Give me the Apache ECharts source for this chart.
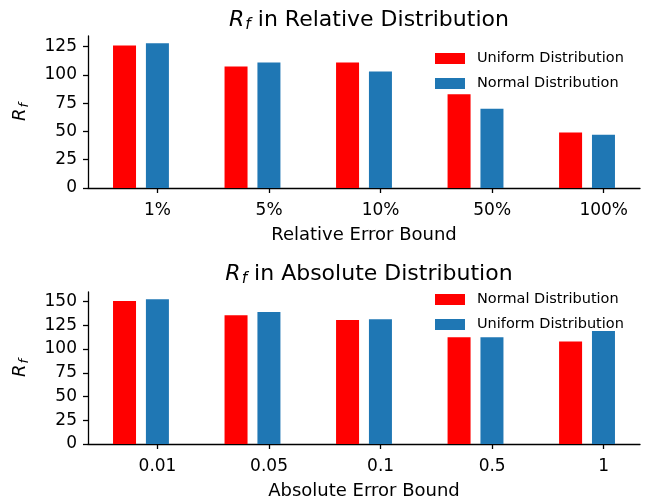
<!DOCTYPE html>
<html>
<head>
<meta charset="utf-8">
<script src="https://cdn.jsdelivr.net/npm/echarts@6/dist/echarts.min.js"></script>
<style>html,body{margin:0;padding:0;background:#fff}#c{width:654px;height:504px}</style>
</head>
<body>
<div id="c"></div>
<script>
const relCategories = ['1%', '5%', '10%', '50%', '100%'];
const absCategories = ['0.01', '0.05', '0.1', '0.5', '1'];
const relUniform = [126, 107.5, 111, 83, 49];
const relNormal = [128, 111, 103, 70, 47];
const absNormal = [150.5, 135.5, 130.5, 112.5, 108];
const absUniform = [152.5, 139, 131.5, 112.5, 119];
const relYTicks = [0, 25, 50, 75, 100, 125];
const absYTicks = [0, 25, 50, 75, 100, 125, 150];

const RED = '#ff0000', BLUE = '#1f77b4';
const FONT = 'DejaVu Sans';
const toXY = arr => arr.map((v, i) => [i, v]);

const richR = {
  i: { fontFamily: FONT, fontStyle: 'italic', fontWeight: 'normal', fontSize: 22, color: '#000' },
  s: { fontFamily: FONT, fontStyle: 'italic', fontWeight: 'normal', fontSize: 15.5, color: '#000', padding: [9, 0, 0, 1] },
  t: { fontFamily: FONT, fontWeight: 'normal', fontSize: 22, color: '#000' }
};
const richY = {
  i: { fontFamily: FONT, fontStyle: 'italic', fontSize: 18, color: '#000' },
  s: { fontFamily: FONT, fontStyle: 'italic', fontSize: 13, color: '#000', padding: [8, 0, 0, 1] }
};

function panel(idx, top, cats, redName, blueName, redVals, blueVals, yTicks, ymax, xName) {
  const g0 = idx * 2, g1 = idx * 2 + 1;
  return {
    grids: [
      { left: 88, right: 14, top: top, height: 152 },
      { left: 157.5, right: 50.3, top: top, height: 152 }
    ],
    xAxes: [
      { gridIndex: g0, type: 'value', min: -0.475, max: 4.475,
        axisLine: { show: true, onZero: false, lineStyle: { color: '#000', width: 1.3 } },
        axisTick: { show: false }, axisLabel: { show: false }, splitLine: { show: false },
        name: xName, nameLocation: 'middle', nameGap: 38,
        nameTextStyle: { fontFamily: FONT, fontSize: 18, color: '#000' } },
      { gridIndex: g1, type: 'category', boundaryGap: false, data: cats,
        axisLine: { show: false, onZero: false },
        axisTick: { show: true, length: 5, lineStyle: { color: '#000', width: 1.3 } },
        axisLabel: { margin: 14, fontFamily: FONT, fontSize: 17, color: '#000' } }
    ],
    yAxes: [
      { gridIndex: g0, type: 'value', min: 0, max: ymax,
        axisLine: { show: true, onZero: false, lineStyle: { color: '#000', width: 1.3 } },
        axisTick: { show: true, length: 5, customValues: yTicks, lineStyle: { color: '#000', width: 1.3 } },
        axisLabel: { customValues: yTicks, margin: 11, fontFamily: FONT, fontSize: 17, color: '#000' },
        splitLine: { show: false },
        name: '{i|R}{s|f}', nameLocation: 'middle', nameRotate: 90, nameGap: 57,
        nameTextStyle: { rich: richY } },
      { gridIndex: g1, type: 'value', min: 0, max: 1, show: false }
    ],
    series: [
      { type: 'bar', name: redName, xAxisIndex: g0, yAxisIndex: g0, data: toXY(redVals),
        barWidth: 23, barGap: '43%', itemStyle: { color: RED } },
      { type: 'bar', name: blueName, xAxisIndex: g0, yAxisIndex: g0, data: toXY(blueVals),
        barWidth: 23, barGap: '43%', itemStyle: { color: BLUE } }
    ]
  };
}

const p1 = panel(0, 36, relCategories, 'Uniform Distribution', 'Normal Distribution', relUniform, relNormal, relYTicks, 134.4, 'Relative Error Bound');
const p2 = panel(1, 292, absCategories, 'Normal Distribution', 'Uniform Distribution', absNormal, absUniform, absYTicks, 160.1, 'Absolute Error Bound');

function legend(top, names) {
  return {
    orient: 'vertical', left: 435, top: top, padding: 0,
    itemWidth: 30, itemHeight: 11, itemGap: 10, icon: 'rect',
    selectedMode: false,
    data: [
      { name: names[0], itemStyle: { color: RED } },
      { name: names[1], itemStyle: { color: BLUE } }
    ],
    textStyle: { fontFamily: FONT, fontSize: 14.5, color: '#000', padding: [0, 0, 0, 7] }
  };
}

const chart = echarts.init(document.getElementById('c'), null, { renderer: 'canvas' });
chart.setOption({
  animation: false,
  backgroundColor: '#fff',
  title: [
    { text: '{i|R}{s|f}{t| in Relative Distribution}', left: 364, top: 3, textAlign: 'center',
      textStyle: { fontWeight: 'normal', rich: richR } },
    { text: '{i|R}{s|f}{t| in Absolute Distribution}', left: 364, top: 257, textAlign: 'center',
      textStyle: { fontWeight: 'normal', rich: richR } }
  ],
  legend: [legend(51, ['Uniform Distribution', 'Normal Distribution']),
           legend(292, ['Normal Distribution', 'Uniform Distribution'])],
  grid: [...p1.grids, ...p2.grids],
  xAxis: [...p1.xAxes, ...p2.xAxes],
  yAxis: [...p1.yAxes, ...p2.yAxes],
  series: [...p1.series, ...p2.series]
});
</script>
</body>
</html>
